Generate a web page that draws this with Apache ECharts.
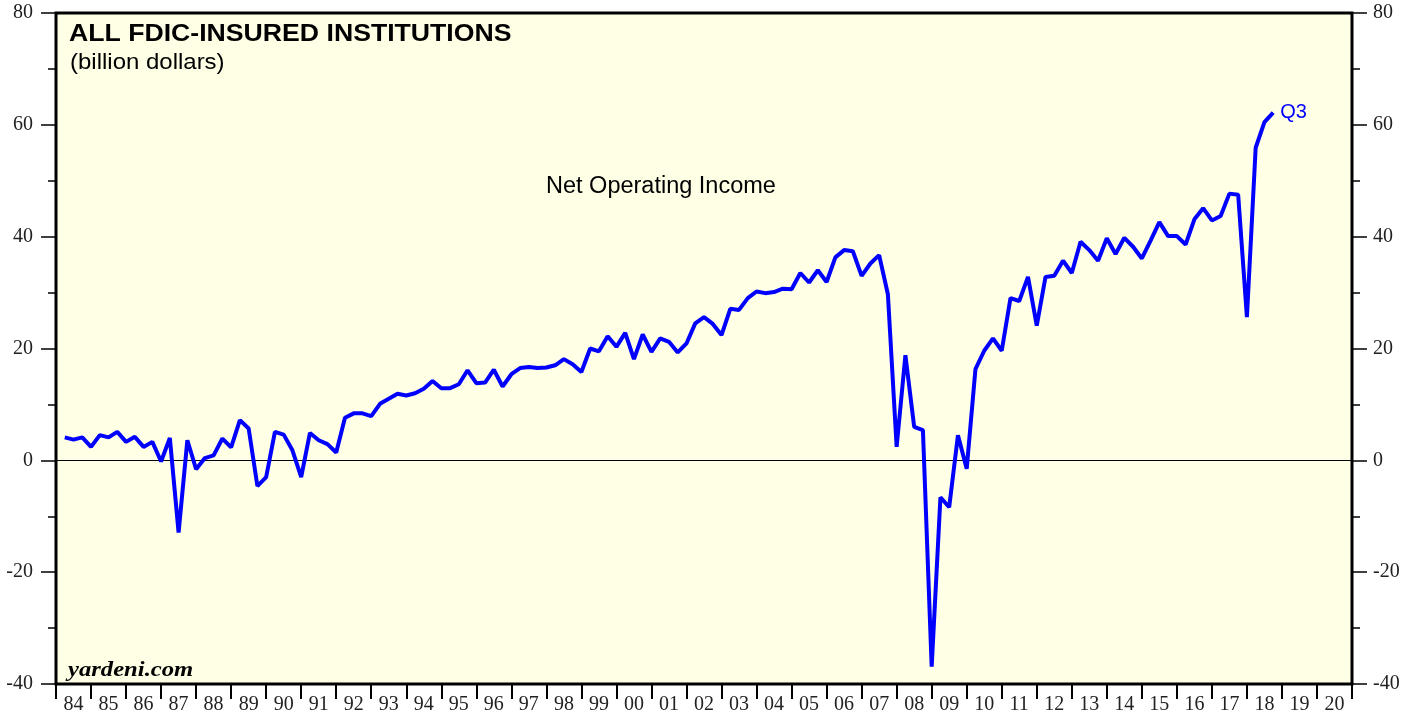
<!DOCTYPE html>
<html>
<head>
<meta charset="utf-8">
<title>All FDIC-Insured Institutions: Net Operating Income</title>
<script src="https://cdn.jsdelivr.net/npm/echarts@6/dist/echarts.min.js"></script>
<style>
  html, body { margin: 0; padding: 0; background: #fff; }
  #chart { width: 1419px; height: 719px; }
</style>
</head>
<body>
<div id="chart"></div>
<script>
// year labels under the x axis (one slot per calendar year)
const yearLabels = ['84', '85', '86', '87', '88', '89', '90', '91', '92', '93', '94', '95',
    '96', '97', '98', '99', '00', '01', '02', '03', '04', '05', '06', '07', '08', '09',
    '10', '11', '12', '13', '14', '15', '16', '17', '18', '19', '20'];
const firstYear = 1984;

// quarterly net operating income, billion dollars, 1984 Q1 .. 2018 Q3
const netOperatingIncome = [
    4.1, 3.7, 4.1, 2.4,      // 84
    4.5, 4.1, 5.1, 3.3,      // 85
    4.2, 2.4, 3.3, -0.2,     // 86
    4.0, -12.9, 3.6, -1.6,   // 87
    0.4, 0.9, 3.9, 2.3,      // 88
    7.2, 5.7, -4.6, -3.0,    // 89
    5.1, 4.6, 1.8, -3.0,     // 90
    4.9, 3.6, 2.9, 1.4,      // 91
    7.6, 8.4, 8.4, 7.9,      // 92
    10.1, 11.0, 11.9, 11.6,  // 93
    12.0, 12.8, 14.2, 12.9,  // 94
    12.9, 13.6, 16.1, 13.8,  // 95
    13.9, 16.2, 13.2, 15.4,  // 96
    16.5, 16.7, 16.5, 16.6,  // 97
    17.0, 18.1, 17.2, 15.8,  // 98
    20.0, 19.5, 22.2, 20.3,  // 99
    22.8, 18.1, 22.5, 19.4,  // 00
    21.8, 21.2, 19.3, 20.9,  // 01
    24.5, 25.6, 24.4, 22.4,  // 02
    27.1, 26.9, 29.0, 30.2,  // 03
    29.9, 30.1, 30.7, 30.6,  // 04
    33.5, 31.8, 34.0, 31.9,  // 05
    36.3, 37.6, 37.4, 33.0,  // 06
    35.2, 36.7, 29.7, 2.4,   // 07
    18.8, 6.0, 5.4, -36.9,   // 08
    -6.6, -8.4, 4.5, -1.5,   // 09
    16.3, 19.6, 21.8, 19.6,  // 10
    29.0, 28.5, 32.8, 24.1,  // 11
    32.8, 33.0, 35.7, 33.5,  // 12
    39.1, 37.6, 35.7, 39.7,  // 13
    36.9, 39.8, 38.2, 36.1,  // 14
    39.3, 42.6, 40.1, 40.1,  // 15
    38.6, 43.1, 45.1, 42.9,  // 16
    43.7, 47.7, 47.5, 25.6,  // 17
    55.9, 60.5, 62.2         // 18
];
const lastQuarterLabel = 'Q3';

// y axis scale
const yMin = -40;
const yMax = 80;
const yStep = 20;

// each quarter is plotted at the end of the quarter
const seriesData = netOperatingIncome.map((v, i) => [firstYear + (i + 1) / 4, v]);

const serif = '"Liberation Serif", "DejaVu Serif", serif';
const sans = '"Liberation Sans", Arial, sans-serif';

const chart = echarts.init(document.getElementById('chart'));

const yAxisBase = {
    type: 'value',
    min: yMin,
    max: yMax,
    interval: yStep,
    axisLine: { show: false },
    splitLine: { show: false },
    axisTick: { show: true, length: 15, lineStyle: { color: '#000', width: 1.5 } },
    minorTick: { show: true, splitNumber: 2, length: 8, lineStyle: { color: '#000', width: 1.5 } },
    minorSplitLine: { show: false },
    axisLabel: { color: '#222', fontFamily: serif, fontSize: 20 }
};

chart.setOption({
    backgroundColor: '#ffffff',
    animation: false,
    grid: {
        left: 56,
        top: 13,
        width: 1296,
        height: 671,
        show: true,
        backgroundColor: '#FFFFE6',
        borderColor: '#000',
        borderWidth: 3,
        z: 0
    },
    xAxis: [{
        type: 'category',
        data: yearLabels,
        boundaryGap: true,
        position: 'bottom',
        axisLine: { show: false, onZero: false },
        axisTick: { show: true, length: 15, interval: 0, lineStyle: { color: '#000', width: 2 } },
        axisLabel: { interval: 0, margin: 11, color: '#222', fontFamily: serif, fontSize: 20 },
        splitLine: { show: false }
    }, {
        type: 'value',
        show: false,
        min: firstYear,
        max: firstYear + yearLabels.length,
        axisLine: { onZero: false }
    }],
    yAxis: [
        Object.assign({}, yAxisBase, { position: 'left', axisLabel: Object.assign({}, yAxisBase.axisLabel, { margin: 23 }) }),
        Object.assign({}, yAxisBase, { position: 'right', axisLabel: Object.assign({}, yAxisBase.axisLabel, { margin: 21 }) })
    ],
    series: [{
        type: 'line',
        name: 'Net Operating Income',
        xAxisIndex: 1,
        yAxisIndex: 0,
        data: seriesData,
        showSymbol: false,
        symbol: 'none',
        lineStyle: { color: '#0000FF', width: 4 },
        z: 5,
        endLabel: {
            show: true,
            formatter: lastQuarterLabel,
            color: '#0000FF',
            fontFamily: sans,
            fontSize: 20,
            distance: 7
        },
        markLine: {
            silent: true,
            symbol: 'none',
            label: { show: false },
            lineStyle: { color: '#000', width: 1, type: 'solid' },
            data: [{ yAxis: 0 }]
        }
    }],
    graphic: [{
        type: 'text',
        x: 69, y: 34,
        scaleX: 1.11,
        style: {
            text: 'ALL FDIC-INSURED INSTITUTIONS',
            font: 'bold 24px ' + sans,
            fill: '#000',
            verticalAlign: 'middle'
        },
        z: 10
    }, {
        type: 'text',
        x: 70, y: 63,
        scaleX: 1.09,
        style: {
            text: '(billion dollars)',
            font: '22px ' + sans,
            fill: '#000',
            verticalAlign: 'middle'
        },
        z: 10
    }, {
        type: 'text',
        x: 546, y: 187,
        scaleX: 1.0,
        style: {
            text: 'Net Operating Income',
            font: '23.5px ' + sans,
            fill: '#000',
            verticalAlign: 'middle'
        },
        z: 10
    }, {
        type: 'text',
        x: 68, y: 670,
        scaleX: 1.12,
        style: {
            text: 'yardeni.com',
            font: 'italic bold 22px ' + serif,
            fill: '#000',
            verticalAlign: 'middle'
        },
        z: 10
    }]
});
</script>
</body>
</html>
